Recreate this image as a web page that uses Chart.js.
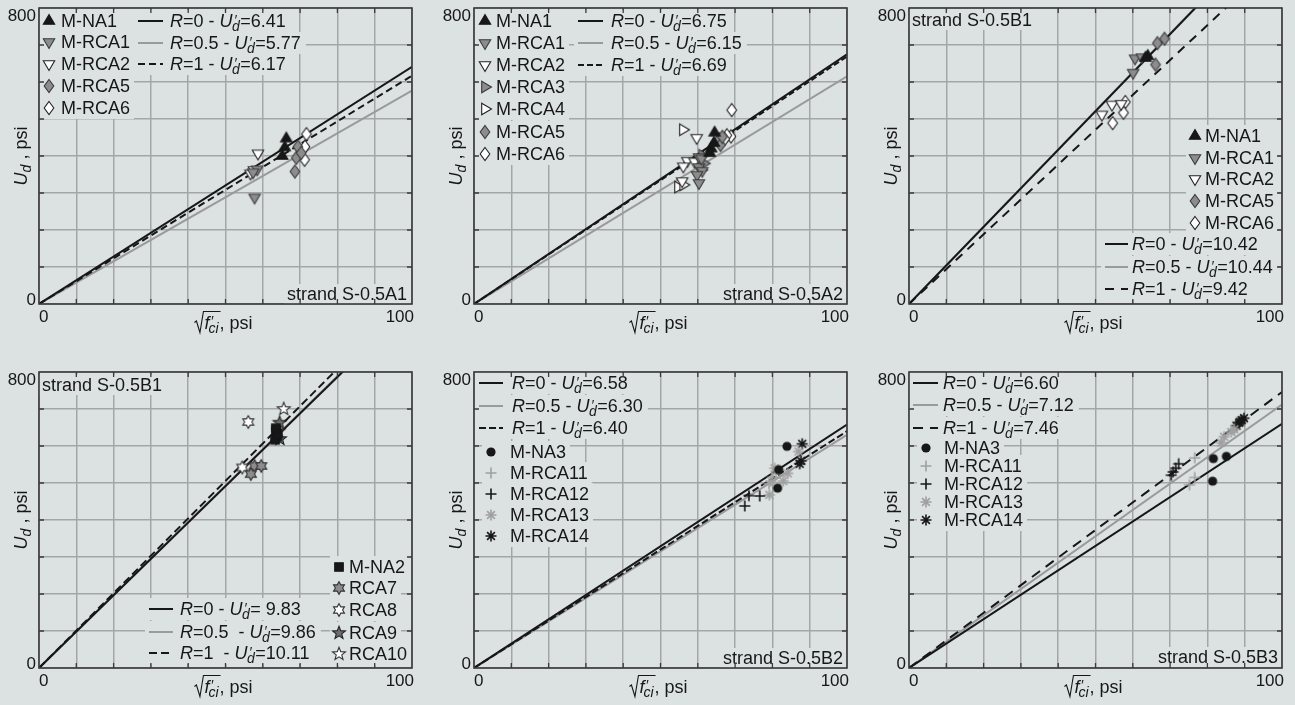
<!DOCTYPE html>
<html>
<head>
<meta charset="utf-8">
<script src="https://cdn.jsdelivr.net/npm/chart.js@4.4.1/dist/chart.umd.min.js"></script>
<style>
  html, body { margin: 0; padding: 0; background: #dce2e2; }
  #wrap { position: relative; width: 1295px; height: 705px; overflow: hidden; background: #dce2e2; }
  canvas { position: absolute; }
</style>
</head>
<body>
<div id="wrap"></div>
<script>
// ---- data -------------------------------------------------------------
const X_TICKS = [0, 100]
const Y_TICKS = [0, 800]
const R_VALUES = ['0', '0.5', '1']

// strand S-0.5A1
const A1_UD   = ['6.41', '5.77', '6.17']
const A1_END  = [641, 577, 617]          // fitted line value at x = 100
const A1_NAMES = ['M-NA1', 'M-RCA1', 'M-RCA2', 'M-RCA5', 'M-RCA6']
const A1_NA1  = [[66.3, 447], [65.9, 423], [65.2, 400]]
const A1_RCA1 = [[57.8, 288], [58.5, 364], [57.4, 356]]
const A1_RCA2 = [[58.7, 407], [56.7, 353], [57.6, 362]]
const A1_RCA5 = [[69.4, 425], [69.0, 395], [68.6, 358], [70.3, 408]]
const A1_RCA6 = [[71.7, 459], [71.3, 425], [71.2, 390]]

// strand S-0.5A2
const A2_UD   = ['6.75', '6.15', '6.69']
const A2_END  = [675, 615, 669]
const A2_NAMES = ['M-NA1', 'M-RCA1', 'M-RCA2', 'M-RCA3', 'M-RCA4', 'M-RCA5', 'M-RCA6']
const A2_NA1  = [[64.5, 463], [64.3, 435], [63.6, 420], [63.2, 408]]
const A2_RCA1 = [[60.3, 397], [60.3, 370], [61.2, 360], [59.8, 349], [60.3, 327], [61.0, 393]]
const A2_RCA2 = [[59.7, 449], [57.2, 387], [56.1, 372], [59.1, 385], [55.8, 332]]
const A2_RCA3 = [[61.2, 402], [61.6, 380], [60.9, 362]]
const A2_RCA4 = [[56.0, 471], [54.7, 316], [56.1, 322]]
const A2_RCA5 = [[65.8, 446], [66.1, 430], [66.6, 452]]
const A2_RCA6 = [[69.1, 524], [68.9, 453], [67.8, 456], [67.2, 446]]

// strand S-0.5B1 (top)
const B1_UD   = ['10.42', '10.44', '9.42']
const B1_END  = [1042, 1044, 942]
const B1_NAMES = ['M-NA1', 'M-RCA1', 'M-RCA2', 'M-RCA5', 'M-RCA6']
const B1_NA1  = [[64.0, 670], [63.4, 665]]
const B1_RCA1 = [[60.6, 664], [62.4, 667], [60.1, 625]]
const B1_RCA2 = [[51.7, 512], [54.4, 539], [56.9, 541]]
const B1_RCA5 = [[66.6, 705], [68.5, 717], [66.1, 647]]
const B1_RCA6 = [[58.0, 546], [57.5, 517], [54.6, 489]]

// strand S-0.5B1 (bottom)
const C1_RT   = ['0', '0.5 ', '1 ']
const C1_UD   = [' 9.83', '9.86', '10.11']
const C1_END  = [983, 986, 1011]
const C1_NAMES = ['M-NA2', 'RCA7', 'RCA8', 'RCA9', 'RCA10']
const C1_NA2   = [[63.6, 640], [63.8, 626], [63.3, 617], [64.0, 632], [63.5, 648]]
const C1_RCA7  = [[57.8, 546], [59.6, 546], [56.8, 524]]
const C1_RCA8  = [[56.1, 665], [54.5, 542]]
const C1_RCA9  = [[64.5, 663], [64.6, 619], [64.2, 640]]
const C1_RCA10 = [[65.6, 700]]

// strand S-0.5B2
const B2_UD   = ['6.58', '6.30', '6.40']
const B2_END  = [658, 630, 640]
const B2_NAMES = ['M-NA3', 'M-RCA11', 'M-RCA12', 'M-RCA13', 'M-RCA14']
const B2_NA3   = [[83.9, 599], [81.7, 536], [81.4, 486]]
const B2_RCA11 = [[79.1, 498], [80.0, 515], [81.0, 525], [79.6, 505]]
const B2_RCA12 = [[72.6, 438], [73.7, 466], [76.6, 465]]
const B2_RCA13 = [[79.2, 468], [80.6, 540], [84.1, 526], [82.9, 505], [87.0, 585]]
const B2_RCA14 = [[88.0, 606], [87.7, 560], [87.3, 552]]

// strand S-0.5B3
const B3_UD   = ['6.60', '7.12', '7.46']
const B3_END  = [660, 712, 746]
const B3_NAMES = ['M-NA3', 'M-RCA11', 'M-RCA12', 'M-RCA13', 'M-RCA14']
const B3_NA3   = [[81.6, 566], [85.1, 572], [81.4, 505]]
const B3_RCA11 = [[75.2, 495], [76.6, 515], [76.6, 568]]
const B3_RCA12 = [[70.3, 521], [72.3, 552], [70.8, 530], [71.5, 540]]
const B3_RCA13 = [[84.5, 625], [83.7, 609], [87.2, 645], [86.4, 638]]
const B3_RCA14 = [[88.5, 663], [89.8, 675], [87.8, 655], [89.2, 670], [88.8, 666]]

// ---- style ------------------------------------------------------------
const BG    = '#dce2e2'
const GRID  = '#a3a6a6'
const FRAME = '#3a3a3a'
const BLACK = '#171717'
const GRAYL = '#9a9a9a'
const GRAYF = '#8c8c8c'
const FONT  = '"Liberation Sans", Arial, Helvetica, sans-serif'
const FS  = 18     // legend / titles
const TFS = 17     // tick labels
const SUB = 14

function canvasMark(draw) {
  const c = document.createElement('canvas')
  c.width = 18; c.height = 18
  const g = c.getContext('2d')
  g.translate(9, 9)
  draw(g)
  return c
}
function polyMark(pts, fill, stroke) {
  return canvasMark(g => {
    g.beginPath()
    pts.forEach((p, i) => i ? g.lineTo(p[0], p[1]) : g.moveTo(p[0], p[1]))
    g.closePath()
    g.fillStyle = fill; g.fill()
    g.lineWidth = 1.1; g.strokeStyle = stroke; g.stroke()
  })
}
function starPts(n, ro, ri) {
  const pts = []
  for (let i = 0; i < n * 2; i++) {
    const a = -Math.PI / 2 + i * Math.PI / n
    const r = i % 2 ? ri : ro
    pts.push([Math.cos(a) * r, Math.sin(a) * r])
  }
  return pts
}
function spokeMark(angles, color) {
  return canvasMark(g => {
    g.strokeStyle = color; g.lineWidth = 1.6
    g.beginPath()
    angles.forEach(a => {
      const dx = Math.cos(a) * 5.5, dy = Math.sin(a) * 5.5
      g.moveTo(-dx, -dy); g.lineTo(dx, dy)
    })
    g.stroke()
  })
}

const TRI_UP    = [[0, -6.5], [5.7, 3.3], [-5.7, 3.3]]
const TRI_DOWN  = [[0, 6.5], [5.7, -3.3], [-5.7, -3.3]]
const TRI_RIGHT = [[6.5, 0], [-3.3, 5.7], [-3.3, -5.7]]
const DIAMOND   = [[0, -6.5], [4.8, 0], [0, 6.5], [-4.8, 0]]
const SQUARE    = [[-4.3, -4.3], [4.3, -4.3], [4.3, 4.3], [-4.3, 4.3]]

const MARK = {
  triUpK:    polyMark(TRI_UP, BLACK, BLACK),
  triDownG:  polyMark(TRI_DOWN, GRAYF, '#3a3a3a'),
  triDownW:  polyMark(TRI_DOWN, '#ffffff', '#222'),
  triRightG: polyMark(TRI_RIGHT, GRAYF, '#3a3a3a'),
  triRightW: polyMark(TRI_RIGHT, '#ffffff', '#222'),
  diaG:      polyMark(DIAMOND, GRAYF, '#3a3a3a'),
  diaW:      polyMark(DIAMOND, '#ffffff', '#222'),
  squareK:   polyMark(SQUARE, BLACK, BLACK),
  hexG:      polyMark(starPts(6, 6.3, 3.6), GRAYF, '#333'),
  hexW:      polyMark(starPts(6, 6.3, 3.6), '#ffffff', '#333'),
  star5G:    polyMark(starPts(5, 6.8, 2.9), '#6e6e6e', '#222'),
  star5W:    polyMark(starPts(5, 6.8, 2.9), '#ffffff', '#333'),
  circleK:   canvasMark(g => { g.beginPath(); g.arc(0, 0, 4.6, 0, Math.PI * 2); g.fillStyle = BLACK; g.fill() }),
  plusG:     spokeMark([0, Math.PI / 2], '#a0a0a0'),
  plusK:     spokeMark([0, Math.PI / 2], BLACK),
  astG:      spokeMark([0, Math.PI / 4, Math.PI / 2, 3 * Math.PI / 4], '#a0a0a0'),
  astK:      spokeMark([0, Math.PI / 4, Math.PI / 2, 3 * Math.PI / 4], BLACK),
}

// ---- text helpers -----------------------------------------------------
const fnt = (sz, it) => (it ? 'italic ' : '') + sz + 'px ' + FONT

function partWidth(ctx, p) {
  if (p.stack) {
    ctx.font = fnt(SUB, true)
    return Math.max(ctx.measureText(p.stack[0]).width + 1, ctx.measureText(p.stack[1]).width)
  }
  ctx.font = fnt(p.sub ? SUB : FS, p.it)
  return ctx.measureText(p.t).width
}
function richWidth(ctx, parts) {
  return parts.reduce((s, p) => s + partWidth(ctx, p), 0)
}
function drawRich(ctx, parts, x, y, align) {
  const w = richWidth(ctx, parts)
  if (align === 'right') x -= w
  else if (align === 'center') x -= w / 2
  ctx.textAlign = 'left'
  ctx.textBaseline = 'alphabetic'
  ctx.fillStyle = BLACK
  parts.forEach(p => {
    const pw = partWidth(ctx, p)
    if (p.stack) {
      ctx.font = fnt(SUB, true)
      ctx.fillText(p.stack[0], x + 1.5, y - 2.5)
      ctx.fillText(p.stack[1], x - 0.5, y + 4)
    } else {
      ctx.font = fnt(p.sub ? SUB : FS, p.it)
      ctx.fillText(p.t, x, y + (p.sub ? 4 : 0))
    }
    x += pw
  })
  return w
}
const rParts = (r, ud) => [
  { t: 'R', it: true }, { t: '=' + r + ' - ' },
  { t: 'U', it: true }, { stack: ['\u2032', 'd'] }, { t: '=' + ud },
]

function drawXTitle(ctx, cx, by) {
  ctx.font = fnt(FS, true); const wf = ctx.measureText('f').width
  ctx.font = fnt(SUB, true); const wci = ctx.measureText('ci').width
  ctx.font = fnt(FS); const wpsi = ctx.measureText(', psi').width
  const rad = 10
  const inner = wf + wci
  const total = rad + inner + wpsi
  let x = cx - total / 2
  ctx.strokeStyle = BLACK; ctx.lineWidth = 1.1
  ctx.beginPath()
  ctx.moveTo(x, by - 6); ctx.lineTo(x + 2, by - 7.5); ctx.lineTo(x + 5.5, by + 4)
  ctx.lineTo(x + 9, by - 17); ctx.lineTo(x + rad + inner + 1, by - 17)
  ctx.stroke()
  x += rad
  ctx.fillStyle = BLACK; ctx.textAlign = 'left'; ctx.textBaseline = 'alphabetic'
  ctx.font = fnt(FS, true); ctx.fillText('f', x, by)
  ctx.font = fnt(SUB, true)
  ctx.fillText('\u2032', x + wf + 1, by - 3)
  ctx.fillText('ci', x + wf - 1, by + 4)
  ctx.font = fnt(FS); ctx.fillText(', psi', x + inner, by)
}

// ---- panels -----------------------------------------------------------
const PANELS = [
  {
    left: 0, top: 0, w: 430, h: 340, pad: { left: 39, top: 8, right: 18, bottom: 36 },
    ends: A1_END, r: R_VALUES, ud: A1_UD, dash: [7, 4],
    names: A1_NAMES, series: [A1_NA1, A1_RCA1, A1_RCA2, A1_RCA5, A1_RCA6],
    marks: ['triUpK', 'triDownG', 'triDownW', 'diaG', 'diaW'],
    markLeg: { x: 10, tx: 22, ys: [13, 34, 56, 78, 100] },
    lineLeg: { x0: 99, x1: 124, tx: 131, ys: [13, 35, 56] },
    tag: { text: 'strand S-0.5A1', x: 368, y: 286, align: 'right' },
  },
  {
    left: 430, top: 0, w: 430, h: 340, pad: { left: 44, top: 8, right: 13, bottom: 36 },
    ends: A2_END, r: R_VALUES, ud: A2_UD, dash: [6, 3],
    names: A2_NAMES, series: [A2_NA1, A2_RCA1, A2_RCA2, A2_RCA3, A2_RCA4, A2_RCA5, A2_RCA6],
    marks: ['triUpK', 'triDownG', 'triDownW', 'triRightG', 'triRightW', 'diaG', 'diaW'],
    markLeg: { x: 11, tx: 22, ys: [13, 35, 57, 79, 101, 124, 146] },
    lineLeg: { x0: 104, x1: 129, tx: 137, ys: [13, 35, 57] },
    tag: { text: 'strand S-0.5A2', x: 369, y: 286, align: 'right' },
  },
  {
    left: 860, top: 0, w: 435, h: 340, pad: { left: 49, top: 8, right: 13, bottom: 36 },
    ends: B1_END, r: R_VALUES, ud: B1_UD, dash: [9, 7],
    names: B1_NAMES, series: [B1_NA1, B1_RCA1, B1_RCA2, B1_RCA5, B1_RCA6],
    marks: ['triUpK', 'triDownG', 'triDownW', 'diaG', 'diaW'],
    markLeg: { x: 286, tx: 296, ys: [128, 150, 171, 193, 215] },
    lineLeg: { x0: 196, x1: 219, tx: 223, ys: [236, 259, 281] },
    tag: { text: 'strand S-0.5B1', x: 3, y: 12, align: 'left' },
  },
  {
    left: 0, top: 340, w: 430, h: 365, pad: { left: 39, top: 32, right: 18, bottom: 37 },
    ends: C1_END, r: C1_RT, ud: C1_UD, dash: [8, 4],
    names: C1_NAMES, series: [C1_NA2, C1_RCA7, C1_RCA8, C1_RCA9, C1_RCA10],
    marks: ['squareK', 'hexG', 'hexW', 'star5G', 'star5W'],
    markLeg: { x: 300, tx: 310, ys: [195, 216, 238, 261, 282] },
    lineLeg: { x0: 110, x1: 134, tx: 141, ys: [237, 260, 281] },
    tag: { text: 'strand S-0.5B1', x: 3, y: 13, align: 'left' },
  },
  {
    left: 430, top: 340, w: 430, h: 365, pad: { left: 44, top: 32, right: 13, bottom: 37 },
    ends: B2_END, r: R_VALUES, ud: B2_UD, dash: [7, 3],
    names: B2_NAMES, series: [B2_NA3, B2_RCA11, B2_RCA12, B2_RCA13, B2_RCA14],
    marks: ['circleK', 'plusG', 'plusK', 'astG', 'astK'],
    markLeg: { x: 17, tx: 36, ys: [80, 101, 122, 143, 164] },
    lineLeg: { x0: 5, x1: 29, tx: 38, ys: [11, 34, 56] },
    tag: { text: 'strand S-0.5B2', x: 369, y: 286, align: 'right' },
  },
  {
    left: 860, top: 340, w: 435, h: 365, pad: { left: 49, top: 32, right: 13, bottom: 37 },
    ends: B3_END, r: R_VALUES, ud: B3_UD, dash: [10, 7],
    names: B3_NAMES, series: [B3_NA3, B3_RCA11, B3_RCA12, B3_RCA13, B3_RCA14],
    marks: ['circleK', 'plusG', 'plusK', 'astG', 'astK'],
    markLeg: { x: 17, tx: 35, ys: [76, 94, 112, 130, 148] },
    lineLeg: { x0: 4, x1: 29, tx: 34, ys: [11, 33, 56] },
    tag: { text: 'strand S-0.5B3', x: 369, y: 285, align: 'right' },
  },
]

function lineStyle(p, i) {
  return [
    { color: BLACK, dash: [], order: 3 },
    { color: GRAYL, dash: [], order: 4 },
    { color: BLACK, dash: p.dash, order: 2 },
  ][i]
}

function decoPlugin(p) {
  return {
    id: 'deco',
    beforeDatasetsDraw(chart) {
      const ctx = chart.ctx, a = chart.chartArea
      ctx.save()
      // backgrounds first so the grid is hidden under the legend texts
      ctx.fillStyle = BG
      const ml = p.markLeg
      p.names.forEach((n, i) => {
        ctx.font = fnt(FS)
        const w = ctx.measureText(n).width
        ctx.fillRect(a.left + ml.x - 9, a.top + ml.ys[i] - 11, ml.tx - ml.x + 9 + w + 4, 22)
      })
      const ll = p.lineLeg
      const lineW = p.r.map((r, i) => richWidth(ctx, rParts(r, p.ud[i])))
      ctx.fillStyle = BG
      lineW.forEach((w, i) => {
        ctx.fillRect(a.left + ll.x0 - 4, a.top + ll.ys[i] - 11, ll.tx - ll.x0 + 4 + w + 5, 22)
      })
      ctx.font = fnt(FS)
      const tw = ctx.measureText(p.tag.text).width
      const tx = p.tag.align === 'right' ? a.left + p.tag.x - tw : a.left + p.tag.x
      ctx.fillRect(tx - 3, a.top + p.tag.y - 10, tw + 6, 20)

      // marker rows
      p.names.forEach((n, i) => {
        const img = MARK[p.marks[i]]
        ctx.drawImage(img, a.left + ml.x - 9, a.top + ml.ys[i] - 9)
        ctx.font = fnt(FS); ctx.fillStyle = BLACK
        ctx.textAlign = 'left'; ctx.textBaseline = 'alphabetic'
        ctx.fillText(n, a.left + ml.tx, a.top + ml.ys[i] + 6)
      })
      // line rows
      p.r.forEach((r, i) => {
        const st = lineStyle(p, i)
        ctx.strokeStyle = st.color; ctx.lineWidth = 2; ctx.setLineDash(st.dash)
        ctx.beginPath()
        ctx.moveTo(a.left + ll.x0, a.top + ll.ys[i]); ctx.lineTo(a.left + ll.x1, a.top + ll.ys[i])
        ctx.stroke()
        ctx.setLineDash([])
        drawRich(ctx, rParts(r, p.ud[i]), a.left + ll.tx, a.top + ll.ys[i] + 6, 'left')
      })
      // strand tag
      ctx.font = fnt(FS); ctx.fillStyle = BLACK
      ctx.textAlign = 'left'; ctx.textBaseline = 'alphabetic'
      ctx.fillText(p.tag.text, tx, a.top + p.tag.y + 6)
      ctx.restore()
    },
    afterDraw(chart) {
      const ctx = chart.ctx, a = chart.chartArea
      const xs = chart.scales.x, ys = chart.scales.y
      ctx.save()
      // inward tick marks
      ctx.strokeStyle = FRAME; ctx.lineWidth = 1.3
      ctx.beginPath()
      for (let v = 10; v < 100; v += 10) {
        const px = xs.getPixelForValue(v)
        ctx.moveTo(px, a.bottom); ctx.lineTo(px, a.bottom - 5)
        ctx.moveTo(px, a.top); ctx.lineTo(px, a.top + 5)
      }
      for (let v = 100; v < 800; v += 100) {
        const py = ys.getPixelForValue(v)
        ctx.moveTo(a.left, py); ctx.lineTo(a.left + 5, py)
        ctx.moveTo(a.right, py); ctx.lineTo(a.right - 5, py)
      }
      ctx.stroke()
      // frame
      ctx.lineWidth = 1.6
      ctx.strokeRect(a.left, a.top, a.right - a.left, a.bottom - a.top)

      // tick labels
      ctx.font = fnt(TFS); ctx.fillStyle = BLACK; ctx.textBaseline = 'alphabetic'
      X_TICKS.forEach((v, i) => {
        ctx.textAlign = i === 0 ? 'left' : 'right'
        ctx.fillText(String(v), xs.getPixelForValue(v) + (i === 0 ? 0 : 2), a.bottom + 18)
      })
      ctx.textAlign = 'right'
      Y_TICKS.forEach((v, i) => {
        ctx.fillText(String(v), a.left - 3, ys.getPixelForValue(v) + (i === 0 ? 0.5 : 12.5))
      })

      // axis titles
      drawXTitle(ctx, (a.left + a.right) / 2 - 2, a.bottom + 24.5)
      ctx.save()
      ctx.translate(a.left - 18, (a.top + a.bottom) / 2)
      ctx.rotate(-Math.PI / 2)
      drawRich(ctx, [{ t: 'U', it: true }, { t: 'd', it: true, sub: true }, { t: ' , psi' }], 0, 6, 'center')
      ctx.restore()
      ctx.restore()
    },
  }
}

const wrap = document.getElementById('wrap')

PANELS.forEach(p => {
  const cv = document.createElement('canvas')
  cv.width = p.w; cv.height = p.h
  cv.style.left = p.left + 'px'; cv.style.top = p.top + 'px'
  wrap.appendChild(cv)

  const lineSets = [0, 1, 2].map(i => {
    const st = lineStyle(p, i)
    return {
      data: [{ x: 0, y: 0 }, { x: 100, y: p.ends[i] }],
      showLine: true,
      borderColor: st.color,
      borderWidth: 2,
      borderDash: st.dash,
      pointRadius: 0,
      order: st.order,
    }
  })
  const pointSets = p.series.map((s, i) => ({
    label: p.names[i],
    data: s.map(([x, y]) => ({ x, y })),
    pointStyle: MARK[p.marks[i]],
    pointRadius: 6,
    order: 1,
  }))

  new Chart(cv, {
    type: 'scatter',
    data: { datasets: [...lineSets, ...pointSets] },
    options: {
      responsive: false,
      animation: false,
      events: [],
      layout: { padding: p.pad },
      plugins: { legend: { display: false }, tooltip: { enabled: false } },
      scales: {
        x: {
          type: 'linear', min: 0, max: 100,
          ticks: { display: false, stepSize: 10 },
          grid: { color: GRID, lineWidth: 1.5, drawTicks: false },
          border: { display: false },
          afterFit: s => { s.height = 0 },
        },
        y: {
          type: 'linear', min: 0, max: 800,
          ticks: { display: false, stepSize: 100 },
          grid: { color: GRID, lineWidth: 1.5, drawTicks: false },
          border: { display: false },
          afterFit: s => { s.width = 0 },
        },
      },
    },
    plugins: [decoPlugin(p)],
  })
})
</script>
</body>
</html>
